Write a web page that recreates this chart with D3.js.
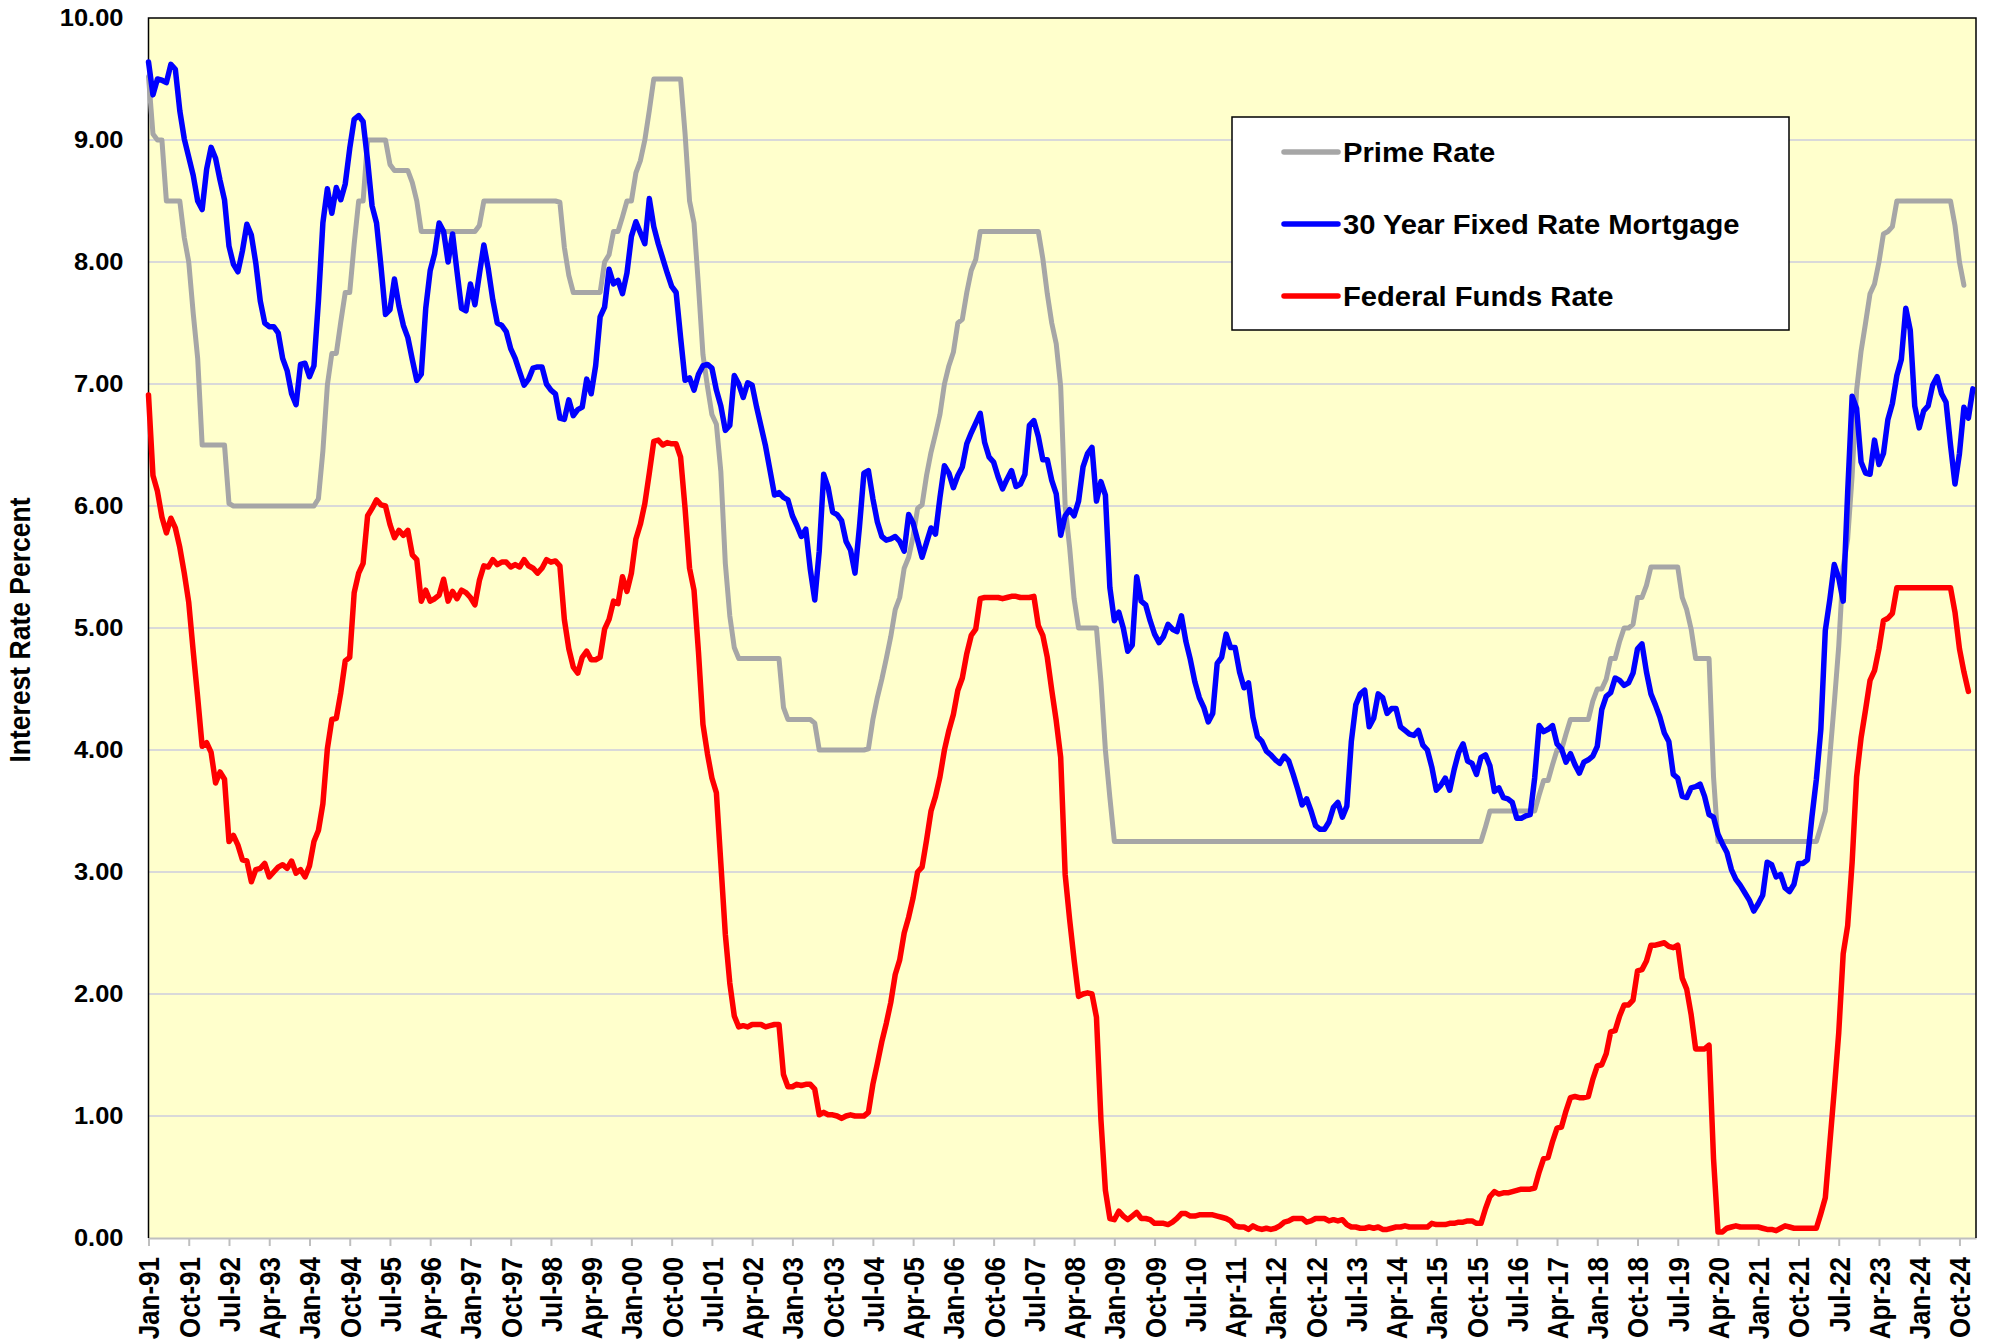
<!doctype html>
<html>
<head>
<meta charset="utf-8">
<style>
    body { margin: 0; background: #fff; }
    text { font-family: "Liberation Sans", Arial, sans-serif; font-weight: bold; fill: #000; }
</style>
<script src="https://d3js.org/d3.v7.min.js"></script>
</head>
<body>
<svg width="1992" height="1343"></svg>
<script>
// monthly values, first month is Jan-91
var primeRate = [
    9.52, 9.05, 9.00, 9.00, 8.50, 8.50, 8.50, 8.50, 8.20, 8.00, 7.58, 7.21,
    6.50, 6.50, 6.50, 6.50, 6.50, 6.50, 6.02, 6.00, 6.00, 6.00, 6.00, 6.00,
    6.00, 6.00, 6.00, 6.00, 6.00, 6.00, 6.00, 6.00, 6.00, 6.00, 6.00, 6.00,
    6.00, 6.00, 6.06, 6.45, 6.99, 7.25, 7.25, 7.51, 7.75, 7.75, 8.15, 8.50,
    8.50, 9.00, 9.00, 9.00, 9.00, 9.00, 8.80, 8.75, 8.75, 8.75, 8.75, 8.65,
    8.50, 8.25, 8.25, 8.25, 8.25, 8.25, 8.25, 8.25, 8.25, 8.25, 8.25, 8.25,
    8.25, 8.25, 8.30, 8.50, 8.50, 8.50, 8.50, 8.50, 8.50, 8.50, 8.50, 8.50,
    8.50, 8.50, 8.50, 8.50, 8.50, 8.50, 8.50, 8.50, 8.49, 8.12, 7.89, 7.75,
    7.75, 7.75, 7.75, 7.75, 7.75, 7.75, 8.00, 8.06, 8.25, 8.25, 8.37, 8.50,
    8.50, 8.73, 8.83, 9.00, 9.24, 9.50, 9.50, 9.50, 9.50, 9.50, 9.50, 9.50,
    9.05, 8.50, 8.32, 7.80, 7.24, 6.98, 6.75, 6.67, 6.28, 5.53, 5.10, 4.84,
    4.75, 4.75, 4.75, 4.75, 4.75, 4.75, 4.75, 4.75, 4.75, 4.75, 4.35, 4.25,
    4.25, 4.25, 4.25, 4.25, 4.25, 4.22, 4.00, 4.00, 4.00, 4.00, 4.00, 4.00,
    4.00, 4.00, 4.00, 4.00, 4.00, 4.01, 4.25, 4.43, 4.58, 4.75, 4.93, 5.15,
    5.25, 5.49, 5.58, 5.75, 5.98, 6.01, 6.25, 6.44, 6.59, 6.75, 7.00, 7.15,
    7.26, 7.50, 7.53, 7.75, 7.93, 8.02, 8.25, 8.25, 8.25, 8.25, 8.25, 8.25,
    8.25, 8.25, 8.25, 8.25, 8.25, 8.25, 8.25, 8.25, 8.03, 7.74, 7.50, 7.33,
    6.98, 6.00, 5.66, 5.24, 5.00, 5.00, 5.00, 5.00, 5.00, 4.56, 4.00, 3.61,
    3.25, 3.25, 3.25, 3.25, 3.25, 3.25, 3.25, 3.25, 3.25, 3.25, 3.25, 3.25,
    3.25, 3.25, 3.25, 3.25, 3.25, 3.25, 3.25, 3.25, 3.25, 3.25, 3.25, 3.25,
    3.25, 3.25, 3.25, 3.25, 3.25, 3.25, 3.25, 3.25, 3.25, 3.25, 3.25, 3.25,
    3.25, 3.25, 3.25, 3.25, 3.25, 3.25, 3.25, 3.25, 3.25, 3.25, 3.25, 3.25,
    3.25, 3.25, 3.25, 3.25, 3.25, 3.25, 3.25, 3.25, 3.25, 3.25, 3.25, 3.25,
    3.25, 3.25, 3.25, 3.25, 3.25, 3.25, 3.25, 3.25, 3.25, 3.25, 3.25, 3.25,
    3.25, 3.25, 3.25, 3.25, 3.25, 3.25, 3.25, 3.25, 3.25, 3.25, 3.25, 3.37,
    3.50, 3.50, 3.50, 3.50, 3.50, 3.50, 3.50, 3.50, 3.50, 3.50, 3.50, 3.63,
    3.75, 3.75, 3.88, 4.00, 4.00, 4.13, 4.25, 4.25, 4.25, 4.25, 4.25, 4.40,
    4.50, 4.50, 4.58, 4.75, 4.75, 4.89, 5.00, 5.00, 5.03, 5.25, 5.25, 5.35,
    5.50, 5.50, 5.50, 5.50, 5.50, 5.50, 5.50, 5.25, 5.15, 4.99, 4.75, 4.75,
    4.75, 4.75, 3.78, 3.25, 3.25, 3.25, 3.25, 3.25, 3.25, 3.25, 3.25, 3.25,
    3.25, 3.25, 3.25, 3.25, 3.25, 3.25, 3.25, 3.25, 3.25, 3.25, 3.25, 3.25,
    3.25, 3.25, 3.37, 3.50, 3.94, 4.38, 4.85, 5.50, 5.73, 6.25, 6.95, 7.27,
    7.50, 7.74, 7.82, 8.00, 8.23, 8.25, 8.29, 8.50, 8.50, 8.50, 8.50, 8.50,
    8.50, 8.50, 8.50, 8.50, 8.50, 8.50, 8.50, 8.50, 8.30, 8.00, 7.81
];

var mortgage30 = [
    9.64, 9.37, 9.50, 9.49, 9.47, 9.62, 9.58, 9.24, 9.01, 8.86, 8.71, 8.50,
    8.43, 8.76, 8.94, 8.85, 8.67, 8.51, 8.13, 7.98, 7.92, 8.09, 8.31, 8.22,
    7.99, 7.68, 7.50, 7.47, 7.47, 7.42, 7.21, 7.11, 6.92, 6.83, 7.16, 7.17,
    7.06, 7.15, 7.68, 8.32, 8.60, 8.40, 8.61, 8.51, 8.64, 8.93, 9.17, 9.20,
    9.15, 8.83, 8.46, 8.32, 7.96, 7.57, 7.61, 7.86, 7.64, 7.48, 7.38, 7.20,
    7.03, 7.08, 7.62, 7.93, 8.07, 8.32, 8.25, 8.00, 8.23, 7.92, 7.62, 7.60,
    7.82, 7.65, 7.90, 8.14, 7.94, 7.69, 7.50, 7.48, 7.43, 7.29, 7.21, 7.10,
    6.99, 7.04, 7.13, 7.14, 7.14, 7.00, 6.95, 6.92, 6.72, 6.71, 6.87, 6.74,
    6.79, 6.81, 7.04, 6.92, 7.15, 7.55, 7.63, 7.94, 7.82, 7.85, 7.74, 7.91,
    8.21, 8.33, 8.24, 8.15, 8.52, 8.29, 8.15, 8.03, 7.91, 7.80, 7.75, 7.38,
    7.03, 7.05, 6.95, 7.08, 7.15, 7.16, 7.13, 6.95, 6.82, 6.62, 6.66, 7.07,
    7.00, 6.89, 7.01, 6.99, 6.81, 6.65, 6.49, 6.29, 6.09, 6.11, 6.07, 6.05,
    5.92, 5.84, 5.75, 5.81, 5.48, 5.23, 5.63, 6.26, 6.15, 5.95, 5.93, 5.88,
    5.71, 5.64, 5.45, 5.83, 6.27, 6.29, 6.06, 5.87, 5.75, 5.72, 5.73, 5.75,
    5.71, 5.63, 5.93, 5.86, 5.72, 5.58, 5.70, 5.82, 5.77, 6.07, 6.33, 6.27,
    6.15, 6.25, 6.32, 6.51, 6.60, 6.68, 6.76, 6.52, 6.40, 6.36, 6.24, 6.14,
    6.22, 6.29, 6.16, 6.18, 6.26, 6.66, 6.70, 6.57, 6.38, 6.38, 6.21, 6.10,
    5.76, 5.92, 5.97, 5.92, 6.04, 6.32, 6.43, 6.48, 6.04, 6.20, 6.09, 5.33,
    5.06, 5.13, 5.00, 4.81, 4.86, 5.42, 5.22, 5.19, 5.06, 4.95, 4.88, 4.93,
    5.03, 4.99, 4.97, 5.10, 4.89, 4.74, 4.56, 4.43, 4.35, 4.23, 4.30, 4.71,
    4.76, 4.95, 4.84, 4.84, 4.64, 4.51, 4.55, 4.27, 4.11, 4.07, 3.99, 3.96,
    3.92, 3.89, 3.95, 3.91, 3.80, 3.68, 3.55, 3.60, 3.50, 3.38, 3.35, 3.35,
    3.41, 3.53, 3.57, 3.45, 3.54, 4.07, 4.37, 4.46, 4.49, 4.19, 4.26, 4.46,
    4.43, 4.30, 4.34, 4.34, 4.19, 4.16, 4.13, 4.12, 4.16, 4.04, 4.00, 3.86,
    3.67, 3.71, 3.77, 3.67, 3.84, 3.98, 4.05, 3.91, 3.89, 3.80, 3.94, 3.96,
    3.87, 3.66, 3.69, 3.61, 3.60, 3.57, 3.44, 3.44, 3.46, 3.47, 3.77, 4.20,
    4.15, 4.17, 4.20, 4.05, 4.01, 3.90, 3.97, 3.88, 3.81, 3.90, 3.92, 3.95,
    4.03, 4.33, 4.44, 4.47, 4.59, 4.57, 4.53, 4.55, 4.63, 4.83, 4.87, 4.64,
    4.46, 4.37, 4.27, 4.14, 4.07, 3.80, 3.77, 3.62, 3.61, 3.69, 3.70, 3.72,
    3.62, 3.47, 3.45, 3.31, 3.23, 3.16, 3.02, 2.94, 2.89, 2.83, 2.77, 2.68,
    2.74, 2.81, 3.08, 3.06, 2.96, 2.98, 2.87, 2.84, 2.90, 3.07, 3.07, 3.10,
    3.45, 3.76, 4.17, 4.98, 5.23, 5.52, 5.41, 5.22, 6.11, 6.90, 6.80, 6.36,
    6.27, 6.26, 6.54, 6.34, 6.43, 6.71, 6.84, 7.07, 7.20, 7.62, 7.44, 6.82,
    6.64, 6.78, 6.82, 6.99, 7.06, 6.92, 6.85, 6.50, 6.18, 6.43, 6.81, 6.72,
    6.96
];

var fedFunds = [
    6.91, 6.25, 6.12, 5.91, 5.78, 5.90, 5.82, 5.66, 5.45, 5.21, 4.81, 4.43,
    4.03, 4.06, 3.98, 3.73, 3.82, 3.76, 3.25, 3.30, 3.22, 3.10, 3.09, 2.92,
    3.02, 3.03, 3.07, 2.96, 3.00, 3.04, 3.06, 3.03, 3.09, 2.99, 3.02, 2.96,
    3.05, 3.25, 3.34, 3.56, 4.01, 4.25, 4.26, 4.47, 4.73, 4.76, 5.29, 5.45,
    5.53, 5.92, 5.98, 6.05, 6.01, 6.00, 5.85, 5.74, 5.80, 5.76, 5.80, 5.60,
    5.56, 5.22, 5.31, 5.22, 5.24, 5.27, 5.40, 5.22, 5.30, 5.24, 5.31, 5.29,
    5.25, 5.19, 5.39, 5.51, 5.50, 5.56, 5.52, 5.54, 5.54, 5.50, 5.52, 5.50,
    5.56, 5.51, 5.49, 5.45, 5.49, 5.56, 5.54, 5.55, 5.51, 5.07, 4.83, 4.68,
    4.63, 4.76, 4.81, 4.74, 4.74, 4.76, 4.99, 5.07, 5.22, 5.20, 5.42, 5.30,
    5.45, 5.73, 5.85, 6.02, 6.27, 6.53, 6.54, 6.50, 6.52, 6.51, 6.51, 6.40,
    5.98, 5.49, 5.31, 4.80, 4.21, 3.97, 3.77, 3.65, 3.07, 2.49, 2.09, 1.82,
    1.73, 1.74, 1.73, 1.75, 1.75, 1.75, 1.73, 1.74, 1.75, 1.75, 1.34, 1.24,
    1.24, 1.26, 1.25, 1.26, 1.26, 1.22, 1.01, 1.03, 1.01, 1.01, 1.00, 0.98,
    1.00, 1.01, 1.00, 1.00, 1.00, 1.03, 1.26, 1.43, 1.61, 1.76, 1.93, 2.16,
    2.28, 2.50, 2.63, 2.79, 3.00, 3.04, 3.26, 3.50, 3.62, 3.78, 4.00, 4.16,
    4.29, 4.49, 4.59, 4.79, 4.94, 4.99, 5.24, 5.25, 5.25, 5.25, 5.25, 5.24,
    5.25, 5.26, 5.26, 5.25, 5.25, 5.25, 5.26, 5.02, 4.94, 4.76, 4.49, 4.24,
    3.94, 2.98, 2.61, 2.28, 1.98, 2.00, 2.01, 2.00, 1.81, 0.97, 0.39, 0.16,
    0.15, 0.22, 0.18, 0.15, 0.18, 0.21, 0.16, 0.16, 0.15, 0.12, 0.12, 0.12,
    0.11, 0.13, 0.16, 0.20, 0.20, 0.18, 0.18, 0.19, 0.19, 0.19, 0.19, 0.18,
    0.17, 0.16, 0.14, 0.10, 0.09, 0.09, 0.07, 0.10, 0.08, 0.07, 0.08, 0.07,
    0.08, 0.10, 0.13, 0.14, 0.16, 0.16, 0.16, 0.13, 0.14, 0.16, 0.16, 0.16,
    0.14, 0.15, 0.14, 0.15, 0.11, 0.09, 0.09, 0.08, 0.08, 0.09, 0.08, 0.09,
    0.07, 0.07, 0.08, 0.09, 0.09, 0.10, 0.09, 0.09, 0.09, 0.09, 0.09, 0.12,
    0.11, 0.11, 0.11, 0.12, 0.12, 0.13, 0.13, 0.14, 0.14, 0.12, 0.12, 0.24,
    0.34, 0.38, 0.36, 0.37, 0.37, 0.38, 0.39, 0.40, 0.40, 0.40, 0.41, 0.54,
    0.65, 0.66, 0.79, 0.90, 0.91, 1.04, 1.15, 1.16, 1.15, 1.15, 1.16, 1.30,
    1.41, 1.42, 1.51, 1.69, 1.70, 1.82, 1.91, 1.91, 1.95, 2.19, 2.20, 2.27,
    2.40, 2.40, 2.41, 2.42, 2.39, 2.38, 2.40, 2.13, 2.04, 1.83, 1.55, 1.55,
    1.55, 1.58, 0.65, 0.05, 0.05, 0.08, 0.09, 0.10, 0.09, 0.09, 0.09, 0.09,
    0.09, 0.08, 0.07, 0.07, 0.06, 0.08, 0.10, 0.09, 0.08, 0.08, 0.08, 0.08,
    0.08, 0.08, 0.20, 0.33, 0.77, 1.21, 1.68, 2.33, 2.56, 3.08, 3.78, 4.10,
    4.33, 4.57, 4.65, 4.83, 5.06, 5.08, 5.12, 5.33, 5.33, 5.33, 5.33, 5.33,
    5.33, 5.33, 5.33, 5.33, 5.33, 5.33, 5.33, 5.33, 5.13, 4.83, 4.64, 4.48
];

// x axis labels, one every 9 months starting at Jan-91
var xTickLabels = [
    "Jan-91", "Oct-91", "Jul-92", "Apr-93", "Jan-94", "Oct-94", "Jul-95", "Apr-96",
    "Jan-97", "Oct-97", "Jul-98", "Apr-99", "Jan-00", "Oct-00", "Jul-01", "Apr-02",
    "Jan-03", "Oct-03", "Jul-04", "Apr-05", "Jan-06", "Oct-06", "Jul-07", "Apr-08",
    "Jan-09", "Oct-09", "Jul-10", "Apr-11", "Jan-12", "Oct-12", "Jul-13", "Apr-14",
    "Jan-15", "Oct-15", "Jul-16", "Apr-17", "Jan-18", "Oct-18", "Jul-19", "Apr-20",
    "Jan-21", "Oct-21", "Jul-22", "Apr-23", "Jan-24", "Oct-24"
];
var yTicks = [0, 1, 2, 3, 4, 5, 6, 7, 8, 9, 10];

var seriesNames = ["Prime Rate", "30 Year Fixed Rate Mortgage", "Federal Funds Rate"];
var seriesColors = ["#a6a6a6", "#0000ff", "#ff0000"];

var svg = d3.select("svg");
var plotLeft = 148.5, plotRight = 1976, plotTop = 18, plotBottom = 1238;

var x = d3.scaleLinear().domain([0, 408.7]).range([plotLeft, plotRight]);
var y = d3.scaleLinear().domain([0, 10]).range([plotBottom, plotTop]);

// plot background
svg.append("rect")
    .attr("x", plotLeft).attr("y", plotTop)
    .attr("width", plotRight - plotLeft).attr("height", plotBottom - plotTop)
    .attr("fill", "#ffffcc");

// gridlines
svg.append("g")
    .selectAll("line")
    .data(yTicks.slice(1, -1))
    .enter().append("line")
    .attr("x1", plotLeft).attr("x2", plotRight)
    .attr("y1", function(d) { return y(d); })
    .attr("y2", function(d) { return y(d); })
    .attr("stroke", "#d9d9d9")
    .attr("stroke-width", 2);

// y axis
var yAxis = svg.append("g")
    .attr("transform", "translate(" + plotLeft + ",0)")
    .call(d3.axisLeft(y).tickValues(yTicks).tickFormat(d3.format(".2f")).tickSize(0).tickPadding(25));
yAxis.select(".domain").remove();
yAxis.selectAll("text")
    .attr("font-size", "24.5px")
    .attr("font-family", "'Liberation Sans', Arial, sans-serif")
    .attr("font-weight", "bold")
    .attr("fill", "#000")
    .attr("transform", "scale(1.04,1)")
    .attr("x", -25 / 1.04);

// x axis
var xAxis = svg.append("g")
    .attr("transform", "translate(0," + plotBottom + ")")
    .call(d3.axisBottom(x)
        .tickValues(d3.range(xTickLabels.length).map(function(i) { return i * 9; }))
        .tickFormat(function(d) { return xTickLabels[d / 9]; })
        .tickSizeInner(8).tickSizeOuter(0));
xAxis.select(".domain").attr("stroke", "#bfbfbf").attr("stroke-width", 2);
xAxis.selectAll(".tick line").attr("stroke", "#bfbfbf").attr("stroke-width", 2);
xAxis.selectAll("text")
    .attr("font-size", "26px")
    .attr("font-family", "'Liberation Sans', Arial, sans-serif")
    .attr("font-weight", "bold")
    .attr("fill", "#000")
    .attr("transform", "rotate(-90) scale(1,1.12)")
    .attr("text-anchor", "end")
    .attr("x", -19)
    .attr("y", 0)
    .attr("dy", "0.36em");

// plot border (top, left, right)
svg.append("path")
    .attr("d", "M" + plotLeft + "," + plotBottom + "V" + plotTop + "H" + plotRight + "V" + plotBottom)
    .attr("fill", "none")
    .attr("stroke", "#000")
    .attr("stroke-width", 1.5);

// y title
svg.append("text")
    .attr("transform", "translate(30,630) rotate(-90) scale(1,1.08)")
    .attr("text-anchor", "middle")
    .attr("font-size", "26.5px")
    .text("Interest Rate Percent");

// lines
var line = d3.line()
    .x(function(d, i) { return x(i); })
    .y(function(d) { return y(d); });

[primeRate, mortgage30, fedFunds].forEach(function(values, k) {
    svg.append("path")
        .datum(values)
        .attr("d", line)
        .attr("fill", "none")
        .attr("stroke", seriesColors[k])
        .attr("stroke-width", k == 0 ? 5 : 5.5)
        .attr("stroke-linejoin", "round")
        .attr("stroke-linecap", "round");
});

// legend
var legend = svg.append("g").attr("transform", "translate(1232,117)");
legend.append("rect")
    .attr("width", 557).attr("height", 213)
    .attr("fill", "#fff")
    .attr("stroke", "#000")
    .attr("stroke-width", 1.5);

var items = legend.selectAll(".item")
    .data(seriesNames)
    .enter().append("g")
    .attr("class", "item")
    .attr("transform", function(d, i) { return "translate(0," + (35 + i * 72) + ")"; });
items.append("line")
    .attr("x1", 52).attr("x2", 106)
    .attr("stroke", function(d, i) { return seriesColors[i]; })
    .attr("stroke-width", 5.5)
    .attr("stroke-linecap", "round");
items.append("text")
    .attr("transform", "translate(111,10) scale(1.08,1)")
    .attr("font-size", "27px")
    .text(function(d) { return d; });
</script>
</body>
</html>
